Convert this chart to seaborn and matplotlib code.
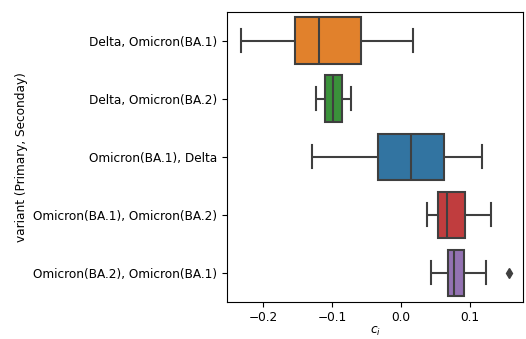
import numpy as np
import pandas as pd
import seaborn as sns
import matplotlib
matplotlib.use("Agg")
import matplotlib.pyplot as plt

plt.rcParams["font.size"] = 8.7

categories = [
    "Delta, Omicron(BA.1)",
    "Delta, Omicron(BA.2)",
    "Omicron(BA.1), Delta",
    "Omicron(BA.1), Omicron(BA.2)",
    "Omicron(BA.2), Omicron(BA.1)",
]
# per-category values: low whisker, Q1, median, Q3, high whisker
whisk_lo = [-0.232, -0.124, -0.129, 0.038, 0.044]
q1 = [-0.154, -0.111, -0.033, 0.054, 0.068]
median = [-0.1185, -0.098, 0.014, 0.067, 0.077]
q3 = [-0.0585, -0.085, 0.063, 0.093, 0.091]
whisk_hi = [0.018, -0.072, 0.117, 0.130, 0.124]
outliers = {"Omicron(BA.2), Omicron(BA.1)": [0.157]}

tab = sns.color_palette("tab10")
palette = {
    "Omicron(BA.1), Delta": tab[0],
    "Delta, Omicron(BA.1)": tab[1],
    "Delta, Omicron(BA.2)": tab[2],
    "Omicron(BA.1), Omicron(BA.2)": tab[3],
    "Omicron(BA.2), Omicron(BA.1)": tab[4],
}

rows = []
for i, c in enumerate(categories):
    out = outliers.get(c, [])
    # 9 points in total -> quartiles land exactly on q1/median/q3
    if out:
        vals = [whisk_lo[i], q1[i], q1[i], median[i], median[i], q3[i], q3[i], whisk_hi[i]] + out
    else:
        vals = [whisk_lo[i], q1[i], q1[i], median[i], median[i], median[i], q3[i], q3[i], whisk_hi[i]]
    for v in vals:
        rows.append({"variant": c, "c": v})
df = pd.DataFrame(rows)

fig = plt.figure(figsize=(5.26, 3.39), dpi=100)
ax = fig.add_axes([0.4316, 0.11, 0.5627, 0.8555])
sns.boxplot(
    data=df, x="c", y="variant", hue="variant", order=categories,
    hue_order=categories, palette=palette, legend=False, ax=ax,
    saturation=0.75, linecolor="#3f3f3f", linewidth=1.5, width=0.8,
    flierprops=dict(marker="d", markerfacecolor="#3f3f3f",
                    markeredgecolor="#3f3f3f", markersize=5),
)
ax.set_xlim(-0.2525, 0.177)
ax.set_xticks([-0.2, -0.1, 0.0, 0.1])
ax.set_xlabel("$c_i$", labelpad=0.5)
ax.set_ylabel("variant (Primary, Seconday)")
fig.savefig("out.png", dpi=100)
